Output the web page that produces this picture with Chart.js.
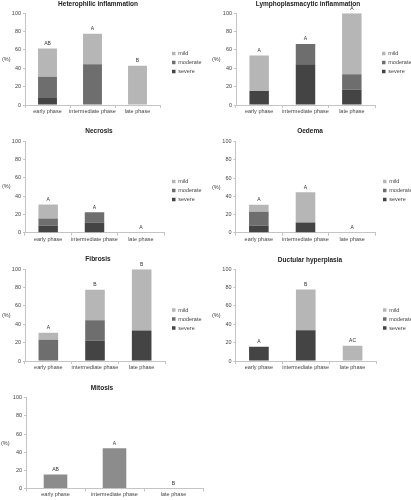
<!doctype html>
<html lang="en">
<head>
<meta charset="utf-8">
<title>Lesions by phase</title>
<script src="https://cdn.jsdelivr.net/npm/chart.js@4.4.1/dist/chart.umd.min.js"></script>
<style>
  html, body { margin: 0; padding: 0; background: #fff; }
  body { width: 411px; height: 500px; overflow: hidden; position: relative; }
  canvas { position: absolute; }
</style>
</head>
<body>
<canvas id="c-het"></canvas>
<canvas id="c-lym"></canvas>
<canvas id="c-nec"></canvas>
<canvas id="c-oed"></canvas>
<canvas id="c-fib"></canvas>
<canvas id="c-duc"></canvas>
<canvas id="c-mit"></canvas>

<script>
// ---- data (% of animals per phase) ----
const phases = ['early phase', 'intermediate phase', 'late phase'];
const yMin = 0, yMax = 100, yStep = 20;

const hetSevere   = [7.7, 0, 0];
const hetModerate = [23.1, 44.4, 0];
const hetMild     = [30.8, 33.3, 42.9];
const hetLetters  = ['AB', 'A', 'B'];

const lymSevere   = [15.4, 44.4, 16.7];
const lymModerate = [0, 22.2, 16.7];
const lymMild     = [38.5, 0, 66.7];
const lymLetters  = ['A', 'A', 'A'];

const necSevere   = [7.7, 11.1, 0];
const necModerate = [7.7, 11.1, 0];
const necMild     = [15.4, 0, 0];
const necLetters  = ['A', 'A', 'A'];

const oedSevere   = [7.7, 11.1, 0];
const oedModerate = [15.4, 0, 0];
const oedMild     = [7.7, 33.3, 0];
const oedLetters  = ['A', 'A', 'A'];

const fibSevere   = [0, 22.2, 33.3];
const fibModerate = [23.1, 22.2, 0];
const fibMild     = [7.7, 33.3, 66.7];
const fibLetters  = ['A', 'B', 'B'];

const ducSevere   = [15.4, 33.3, 0];
const ducModerate = [0, 0, 0];
const ducMild     = [0, 44.4, 16.7];
const ducLetters  = ['A', 'B', 'AC'];

const mitValues   = [15.4, 44.4, 0];
const mitLetters  = ['AB', 'A', 'B'];

// ---- styles ----
const fontFam = "'Liberation Sans', Arial, sans-serif";
const cMild = '#b6b6b6', cModerate = '#6e6e6e', cSevere = '#444444', cSingle = '#8c8c8c';
const axisColor = '#c4c4c4';
Chart.defaults.font.family = fontFam;
Chart.defaults.color = '#444';

// letters over the bars + the "(%)" label
const lettersPlugin = {
  id: 'letters',
  afterDatasetsDraw(chart, args, opts) {
    const ctx = chart.ctx, xs = chart.scales.x, ys = chart.scales.y;
    ctx.save();
    ctx.font = '5px ' + fontFam;
    ctx.fillStyle = '#333';
    ctx.textAlign = 'center';
    ctx.textBaseline = 'middle';
    opts.text.forEach(function (t, i) {
      let total = 0;
      chart.data.datasets.forEach(function (ds) { total += ds.data[i] || 0; });
      ctx.fillText(t, xs.getPixelForValue(i), ys.getPixelForValue(total) - 5);
    });
    ctx.textAlign = 'left';
    ctx.font = '5.5px ' + fontFam;
    ctx.fillStyle = '#444';
    ctx.fillText('(%)', opts.pctX, (chart.chartArea.top + chart.chartArea.bottom) / 2);
    ctx.restore();
  }
};

// fixed legend width and a gap between plot and legend
const legendPlace = {
  id: 'legendPlace',
  beforeLayout(chart, args, opts) {
    const lg = chart.legend;
    if (!lg || lg._fixedFit) return;
    const fit = lg.fit;
    lg.fit = function () { fit.call(this); this.width = opts.width; };
    lg._fixedFit = true;
  },
  afterLayout(chart, args, opts) {
    const lg = chart.legend;
    if (!lg) return;
    lg.left += opts.shift;
    lg.right += opts.shift;
  }
};

function stackSets(severe, moderate, mild) {
  return [
    {label: 'severe', data: severe, backgroundColor: cSevere},
    {label: 'moderate', data: moderate, backgroundColor: cModerate},
    {label: 'mild', data: mild, backgroundColor: cMild}
  ];
}

function drawPanel(id, pos, title, sets, letters) {
  const cv = document.getElementById(id);
  const hasLegend = sets.length > 1;
  const legPad = 3.5;
  let W, R, L, LW = 0;
  if (hasLegend) {
    W = pos.legendX + 40;
    R = 0;
    LW = W - pos.plotR;
  } else {
    W = 205;
    R = W - pos.plotR;
  }
  L = 2 * pos.titleX - (W - R);
  cv.width = W;
  cv.height = pos.h;
  cv.style.left = pos.x + 'px';
  cv.style.top = pos.y + 'px';

  sets.forEach(function (ds) { ds.barPercentage = pos.bar; ds.categoryPercentage = 1; ds.borderWidth = 0; });

  new Chart(cv, {
    type: 'bar',
    data: {labels: phases, datasets: sets},
    plugins: hasLegend ? [lettersPlugin, legendPlace] : [lettersPlugin],
    options: {
      responsive: false,
      animation: false,
      layout: {padding: {left: L, right: R, top: 0, bottom: 0}},
      plugins: {
        title: {
          display: true,
          text: title,
          color: '#222',
          font: {size: 6.5, weight: 'bold', lineHeight: 1.2},
          padding: {top: pos.titleY - 3.9, bottom: pos.plotT - pos.titleY - 3.9}
        },
        legend: {
          display: hasLegend,
          position: 'right',
          reverse: true,
          labels: {boxWidth: 3.5, boxHeight: 3.5, padding: legPad, color: '#444', font: {size: 5.5}}
        },
        tooltip: {enabled: false},
        letters: {text: letters, pctX: pos.pctX},
        legendPlace: {width: LW, shift: pos.legendX - pos.plotR - legPad}
      },
      scales: {
        x: {
          stacked: true,
          grid: {display: true, drawOnChartArea: false, tickLength: 3, color: axisColor, offset: true},
          border: {color: axisColor},
          ticks: {padding: 0, maxRotation: 0, autoSkip: false, font: {size: 5.5}, color: '#444'},
          afterFit: function (s) { s.height = pos.h - pos.plotB; }
        },
        y: {
          stacked: true,
          min: yMin, max: yMax,
          grid: {display: true, drawOnChartArea: false, tickLength: 2, color: axisColor},
          border: {color: axisColor},
          ticks: {stepSize: yStep, padding: 2, font: {size: 5.5}, color: '#444'},
          afterFit: function (s) { s.width = pos.plotL - L; }
        }
      }
    }
  });
}

drawPanel('c-het', {x: 0, y: 0, plotL: 25, plotR: 160, plotT: 13.3, plotB: 105, h: 125, titleX: 98, titleY: 4.3, legendX: 172, pctX: 2, bar: 0.42},
  'Heterophilic inflammation', stackSets(hetSevere, hetModerate, hetMild), hetLetters);
drawPanel('c-lym', {x: 205, y: 0, plotL: 31, plotR: 170, plotT: 13.3, plotB: 105, h: 125, titleX: 103, titleY: 4.3, legendX: 177, pctX: 7, bar: 0.42},
  'Lymphoplasmacytic inflammation', stackSets(lymSevere, lymModerate, lymMild), lymLetters);
drawPanel('c-nec', {x: 0, y: 125, plotL: 25, plotR: 164, plotT: 16, plotB: 107.7, h: 131, titleX: 99, titleY: 6, legendX: 172, pctX: 2, bar: 0.42},
  'Necrosis', stackSets(necSevere, necModerate, necMild), necLetters);
drawPanel('c-oed', {x: 205, y: 125, plotL: 30.5, plotR: 170.5, plotT: 16.7, plotB: 107.7, h: 131, titleX: 105, titleY: 6, legendX: 178, pctX: 7, bar: 0.42},
  'Oedema', stackSets(oedSevere, oedModerate, oedMild), oedLetters);
drawPanel('c-fib', {x: 0, y: 250, plotL: 25, plotR: 165, plotT: 19.3, plotB: 111, h: 138, titleX: 98, titleY: 9.3, legendX: 172, pctX: 2, bar: 0.42},
  'Fibrosis', stackSets(fibSevere, fibModerate, fibMild), fibLetters);
drawPanel('c-duc', {x: 205, y: 250, plotL: 30.5, plotR: 171, plotT: 19, plotB: 111, h: 138, titleX: 105, titleY: 10, legendX: 178, pctX: 7, bar: 0.42},
  'Ductular hyperplasia', stackSets(ducSevere, ducModerate, ducMild), ducLetters);
drawPanel('c-mit', {x: 0, y: 375, plotL: 26, plotR: 203, plotT: 22.7, plotB: 113.5, h: 125, titleX: 102, titleY: 13.3, legendX: 0, pctX: 1, bar: 0.4},
  'Mitosis', [{label: 'mitosis', data: mitValues, backgroundColor: cSingle}], mitLetters);
</script>
</body>
</html>
